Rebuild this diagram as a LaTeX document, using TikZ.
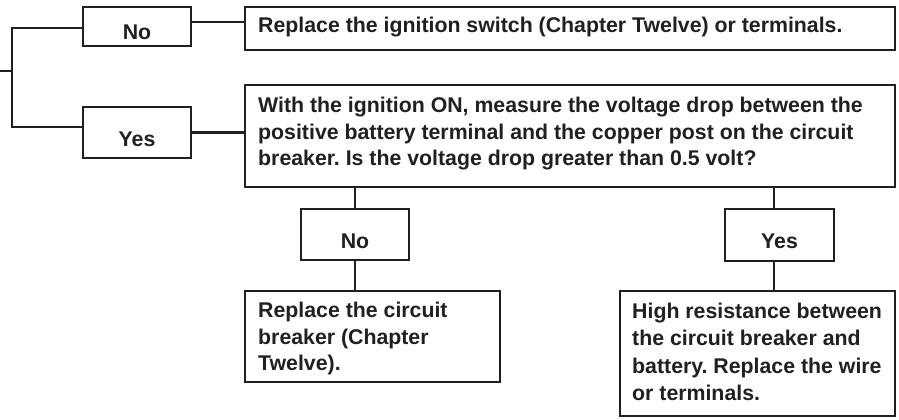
\documentclass[tikz,border=0pt]{standalone}
\usepackage{fontspec}
\setmainfont{Liberation Sans}
\definecolor{ink}{HTML}{231F20}
\frenchspacing
\begin{document}
\begin{tikzpicture}[x=1pt,y=-1pt,
  box/.style={draw=ink, line width=2.6pt, rectangle, inner sep=0pt},
  conn/.style={draw=ink, line width=2.6pt},
  lbl/.style={text=ink, font=\fontsize{21.3}{26.6}\selectfont\bfseries, inner sep=0pt},
  para/.style={lbl, anchor=north west, align=left}]
\useasboundingbox (0,0) rectangle (899,420);
\fill[white] (0,0) rectangle (899,420);
% boxes
\node[box, minimum width=108pt, minimum height=39pt] (noA) at (137,26.5) {};
\node[box, minimum width=108pt, minimum height=51pt] (yesA) at (137,132.5) {};
\node[box, minimum width=650pt, minimum height=43pt] (repA) at (570,28.5) {};
\node[box, minimum width=650pt, minimum height=102pt] (withB) at (570,136) {};
\node[box, minimum width=108pt, minimum height=51pt] (noB) at (355,234.5) {};
\node[box, minimum width=109pt, minimum height=52pt] (yesB) at (779.5,235) {};
\node[box, minimum width=255pt, minimum height=91pt] (repC) at (372.5,336.5) {};
\node[box, minimum width=275pt, minimum height=125pt] (highD) at (757.5,353.5) {};
% labels
\node[lbl, anchor=base] (tnoA) at (137,40) {No};
\node[lbl, anchor=base] (tyesA) at (137,146) {Yes};
\node[lbl, anchor=base] (tnoB) at (355,248) {No};
\node[lbl, anchor=base] (tyesB) at (779.5,248) {Yes};
\node[lbl, anchor=base west] (trepA) at (258,33) {Replace the ignition switch (Chapter Twelve) or terminals.};
\node[para] (twithB) at (258,97) {With the ignition ON, measure the voltage drop between the\\positive battery terminal and the copper post on the circuit\\breaker. Is the voltage drop greater than 0.5 volt?};
\node[para] (trepC) at (258,302) {Replace the circuit\\breaker (Chapter\\Twelve).};
\node[para, font=\fontsize{21.3}{27.2}\selectfont\bfseries] (thighD) at (632,303) {High resistance between\\the circuit breaker and\\battery. Replace the wire\\or terminals.};
% connectors
\coordinate (start) at (0,71);
\coordinate (j) at (12,71);
\draw[conn] (start) -- (j);
\draw[conn] ([yshift=-1.5pt]noA.west) -| (j);
\draw[conn] (j) |- ([yshift=5.5pt]yesA.west);
\draw[conn] ([yshift=4.5pt]noA.east) -- ([yshift=4.5pt]noA.east -| repA.west);
\draw[conn] (yesA.east) -- (yesA.east -| withB.west);
\draw[conn] (noB.north |- withB.south) -- (noB.north);
\draw[conn] (noB.south) -- (noB.south |- repC.north);
\draw[conn] ([xshift=-5.5pt]yesB.north |- withB.south) -- ([xshift=-5.5pt]yesB.north);
\draw[conn] ([xshift=-5.5pt]yesB.south) -- ([xshift=-5.5pt]yesB.south |- highD.north);
\end{tikzpicture}
\end{document}
